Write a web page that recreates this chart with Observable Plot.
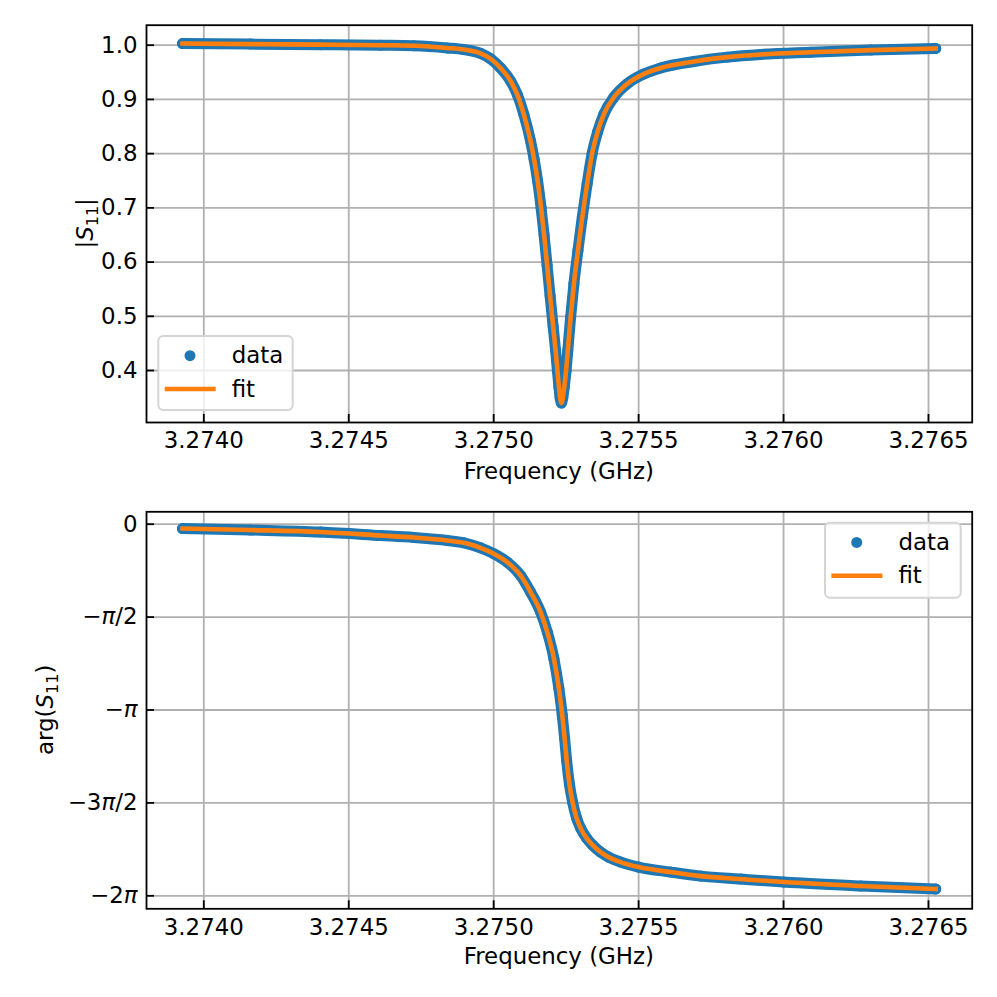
<!DOCTYPE html>
<html><head><meta charset="utf-8">
<script src="https://cdn.jsdelivr.net/npm/d3@7"></script>
<script src="https://cdn.jsdelivr.net/npm/@observablehq/plot@0.6"></script>
<style>
body{margin:0;background:#fff;}
#wrap{position:relative;width:997px;height:997px;font-family:"DejaVu Sans";}
#wrap svg{position:absolute;left:0;overflow:visible;}
</style></head><body><div id="wrap"></div>
<script>
// |S11|
const magFreq = [3.2739265,3.2741611,3.2744027,3.2746097,3.2747246,3.2748399,3.2748972,3.2749548,3.2749893,3.2750238,3.2750583,3.2750815,3.2751042,3.2751273,3.2751394,3.2751515,3.2751636,3.2751739,3.2751843,3.2751946,3.2752050,3.2752136,3.2752198,3.2752250,3.2752291,3.2752336,3.2752385,3.2752436,3.2752498,3.2752557,3.2752654,3.2752768,3.2752906,3.2753057,3.2753223,3.2753396,3.2753585,3.2753803,3.2754148,3.2754610,3.2755183,3.2755759,3.2756908,3.2758061,3.2759210,3.2760935,3.2763006,3.2765249];
const magVal  = [1.003,1.002,1.001,1.000,0.999,0.995,0.992,0.985,0.975,0.958,0.934,0.909,0.872,0.823,0.790,0.750,0.700,0.650,0.594,0.538,0.482,0.437,0.400,0.370,0.350,0.340,0.350,0.370,0.400,0.437,0.498,0.560,0.621,0.683,0.744,0.800,0.840,0.873,0.904,0.929,0.947,0.958,0.970,0.978,0.983,0.987,0.991,0.994];
// arg(S11)
const phaseFreq = [3.2739265,3.2741611,3.2744027,3.2746097,3.2747246,3.2748399,3.2748972,3.2749548,3.2750007,3.2750469,3.2750928,3.2751273,3.2751618,3.2751850,3.2752078,3.2752250,3.2752367,3.2752447,3.2752516,3.2752619,3.2752723,3.2752861,3.2752999,3.2753206,3.2753413,3.2753689,3.2753965,3.2754379,3.2755001,3.2756105,3.2757140,3.2758520,3.2760004,3.2762661,3.2765249];
const phaseVal  = [-0.073,-0.098,-0.132,-0.191,-0.225,-0.275,-0.314,-0.399,-0.500,-0.642,-0.866,-1.148,-1.486,-1.824,-2.273,-2.780,-3.231,-3.620,-3.991,-4.413,-4.700,-4.970,-5.139,-5.308,-5.426,-5.544,-5.629,-5.713,-5.798,-5.882,-5.950,-6.000,-6.051,-6.118,-6.169];

const xTicks = [3.2740,3.2745,3.2750,3.2755,3.2760,3.2765];
const magTicks = [0.4,0.5,0.6,0.7,0.8,0.9,1.0];
const phaseTicks = [0,-Math.PI/2,-Math.PI,-3*Math.PI/2,-2*Math.PI];
const phaseTickLabels = ["0","−π/2","−π","−3π/2","−2π"];
const seriesNames = ["data","fit"];
const colors = ["#1f77b4","#ff7f0e"];
const xDomain = [3.2738023,3.2766508];

const FS = 22.9, LW = 1.8, W = 997, ML = 146, MR = 25.3;
const wrap = document.getElementById("wrap");

function panel(o){
  const rows = o.freq.map((f,i)=>({f, v:o.val[i]}));
  const innerW = W-ML-MR, innerH = o.height-o.mt-o.mb;
  const svg = Plot.plot({
    width: W, height: o.height,
    marginLeft: ML, marginRight: MR, marginTop: o.mt, marginBottom: o.mb,
    style:{fontSize: FS+"px", fontFamily:"DejaVu Sans", color:"#000", background:"transparent", overflow:"visible"},
    x:{domain:xDomain, label:null},
    y:{domain:o.yDomain, label:null},
    marks:[
      Plot.gridX(xTicks,{stroke:"#b0b0b0", strokeOpacity:1, strokeWidth:LW}),
      Plot.gridY(o.yTicks,{stroke:"#b0b0b0", strokeOpacity:1, strokeWidth:LW}),
      Plot.line(rows,{x:"f",y:"v",stroke:colors[0],strokeWidth:11,strokeLinecap:"round",strokeLinejoin:"round",curve:"monotone-x"}),
      Plot.dot(rows,{x:"f",y:"v",r:5.5,fill:colors[0],stroke:null}),
      Plot.line(rows,{x:"f",y:"v",stroke:colors[1],strokeWidth:4.6,strokeLinecap:"square",strokeLinejoin:"round",curve:"monotone-x"}),
      Plot.tickX(xTicks,{x:d=>d,stroke:"#000",strokeWidth:LW,insetTop:innerH-8}),
      Plot.tickY(o.yTicks,{y:d=>d,stroke:"#000",strokeWidth:LW,insetRight:innerW-8}),
      Plot.frame({stroke:"#000",strokeWidth:LW}),
      Plot.axisX(xTicks,{tickSize:0,tickPadding:9.5,tickFormat:d=>d.toFixed(4),label:null}),
      Plot.axisY(o.yTicks,{tickSize:0,tickPadding:9,tickFormat:o.yFormat,label:null})
    ]
  });
  svg.style.top = o.top+"px";
  wrap.appendChild(svg);
  const s = d3.select(svg);
  const txt = () => s.append("text").attr("font-size",FS).attr("font-family","DejaVu Sans").attr("fill","#000");
  // x label
  txt().attr("x",ML+innerW/2).attr("y",o.xlabY).attr("text-anchor","middle").text("Frequency (GHz)");
  // y label
  const yl = txt().attr("transform",`translate(${o.ylabX},${o.mt+innerH/2}) rotate(-90)`).attr("text-anchor","middle");
  o.ylab(yl);
  // legend
  const L = o.legend;
  s.append("rect").attr("x",L.x).attr("y",L.y).attr("width",L.w).attr("height",L.h).attr("rx",5)
    .attr("fill","#fff").attr("fill-opacity",0.8).attr("stroke","#d5d5d5").attr("stroke-width",2);
  s.append("circle").attr("cx",L.x+31.7).attr("cy",L.y+19.7).attr("r",5.5).attr("fill",colors[0]);
  s.append("line").attr("x1",L.x+6.4).attr("x2",L.x+57.4).attr("y1",L.y+53).attr("y2",L.y+53)
    .attr("stroke",colors[1]).attr("stroke-width",4.6);
  txt().attr("text-anchor","start").attr("x",L.x+73.4).attr("y",L.y+27.3).text(seriesNames[0]);
  txt().attr("text-anchor","start").attr("x",L.x+73.4).attr("y",L.y+60.7).text(seriesNames[1]);
  return svg;
}

function labS(sel, pre, post){
  if (pre) sel.append("tspan").text(pre);
  sel.append("tspan").attr("font-style","italic").text("S");
  sel.append("tspan").attr("font-size",FS*0.7).attr("dy",4.5).text("11");
  sel.append("tspan").attr("dy",-4.5).text(post);
}

panel({freq:magFreq,val:magVal,yDomain:[0.3041,1.0369],yTicks:magTicks,yFormat:d=>d.toFixed(1),
  top:0,height:497,mt:24.7,mb:75,xlabY:479,ylabX:93,
  ylab:t=>labS(t,"|","|"),
  legend:{x:158.3,y:336,w:134.4,h:74}});

const bottom = panel({freq:phaseFreq,val:phaseVal,yDomain:[-6.503,0.2097],yTicks:phaseTicks,
  yFormat:d=>phaseTickLabels[phaseTicks.findIndex(t=>Math.abs(t-d)<1e-9)],
  top:497,height:500,mt:14.3,mb:88.7,xlabY:466.5,ylabX:53,
  ylab:t=>labS(t,"arg(",")"),
  legend:{x:825,y:25.7,w:135.7,h:75}});

d3.select(bottom).selectAll('g[aria-label="y-axis tick label"] text').each(function(){
  const s = this.textContent, el = d3.select(this);
  el.text("");
  for (const part of s.split(/(π)/)) {
    if (!part) continue;
    el.append("tspan").attr("font-style", part==="π" ? "italic" : null).text(part);
  }
});
</script></body></html>
